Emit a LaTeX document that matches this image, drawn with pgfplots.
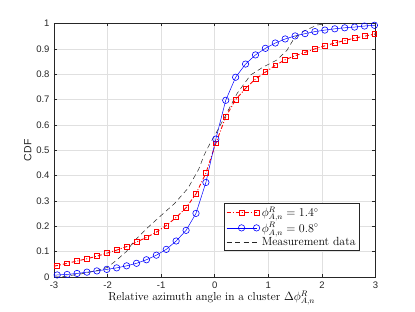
\documentclass[border=0pt]{standalone}
\usepackage{pgfplots}
\pgfplotsset{compat=1.18}
\usepackage{fontspec}
\newfontfamily\armfont{Liberation Sans}
\definecolor{axgray}{rgb}{0.15,0.15,0.15}
\definecolor{gridgray}{rgb}{0.88,0.88,0.88}
\begin{document}
\begin{tikzpicture}[x=1pt,y=1pt]
\begin{axis}[
  scale only axis, width=321.5pt, height=253.5pt,
  at={(0,0)}, anchor=south west,
  xmin=-3, xmax=3, ymin=0, ymax=1,
  xtick={-3,-2,-1,0,1,2,3},
  ytick={0,0.1,0.2,0.3,0.4,0.5,0.6,0.7,0.8,0.9,1},
  yticklabels={0,0.1,0.2,0.3,0.4,0.5,0.6,0.7,0.8,0.9,1},
  xticklabels={-3,-2,-1,0,1,2,3},
  tick align=inside, major tick length=3pt,
  tick style={axgray, line width=0.5pt},
  axis line style={axgray, line width=0.6pt},
  grid=major, grid style={gridgray, line width=0.5pt},
  tick label style={font=\armfont\fontsize{9.5}{11}\selectfont, text=axgray},
  xticklabel style={yshift=-1pt},
  yticklabel style={xshift=-1pt},
  xlabel={Relative azimuth angle in a cluster $\Delta\phi_{A,n}^{R}$},
  ylabel={CDF},
  xlabel style={font=\fontsize{11.5}{13}\selectfont, yshift=4pt, xshift=-3pt},
  ylabel style={font=\armfont\fontsize{10.5}{12}\selectfont, text=axgray, yshift=-2pt},
  legend style={at={(rel axis cs:0.9496,0.1026)}, anchor=south east,
    draw=axgray, line width=0.5pt, font=\fontsize{11.8}{13}\selectfont,
    inner xsep=1.5pt, inner ysep=1.5pt, row sep=0pt, cells={anchor=west}},
  legend cell align=left,
  legend image code/.code={\draw[mark repeat=2,mark phase=2]
     plot coordinates {(0pt,0pt)(15pt,0pt)(30pt,0pt)};},
]
\addplot[red, line width=0.9pt, dash pattern=on 4pt off 2pt on 1pt off 2pt,
  mark=square, mark size=2.4pt, mark options={solid, line width=0.7pt},
  mark indices={2,...,34}] coordinates {
(-3,0.043)
(-2.94,0.045)(-2.755,0.054)(-2.57,0.063)(-2.385,0.072)(-2.2,0.082)(-2.015,0.094)
(-1.83,0.106)(-1.645,0.120)(-1.46,0.138)(-1.275,0.156)(-1.09,0.177)(-0.905,0.203)
(-0.72,0.235)(-0.535,0.273)(-0.35,0.328)(-0.165,0.410)(0.02,0.527)(0.205,0.632)
(0.39,0.700)(0.575,0.744)(0.76,0.781)(0.945,0.808)(1.13,0.835)(1.315,0.857)
(1.5,0.873)(1.685,0.886)(1.87,0.900)(2.055,0.912)(2.24,0.923)(2.425,0.933)
(2.61,0.942)(2.795,0.950)(2.98,0.958)
(3,0.959)};
\addlegendentry{$\phi_{A,n}^{R}=1.4^{\circ}$}
\addplot[blue, line width=0.5pt,
  mark=o, mark size=3.2pt, mark options={solid, line width=0.6pt},
  mark indices={2,...,34}] coordinates {
(-3,0.007)
(-2.94,0.008)(-2.755,0.010)(-2.57,0.014)(-2.385,0.019)(-2.2,0.024)(-2.015,0.030)
(-1.83,0.036)(-1.645,0.044)(-1.46,0.054)(-1.275,0.068)(-1.09,0.086)(-0.905,0.109)
(-0.72,0.142)(-0.535,0.184)(-0.35,0.251)(-0.165,0.373)(0.02,0.544)(0.205,0.697)
(0.39,0.788)(0.575,0.840)(0.76,0.876)(0.945,0.902)(1.13,0.923)(1.315,0.939)
(1.5,0.951)(1.685,0.960)(1.87,0.968)(2.055,0.974)(2.24,0.979)(2.425,0.983)
(2.61,0.986)(2.795,0.990)(2.98,0.993)
(3,0.994)};
\addlegendentry{$\phi_{A,n}^{R}=0.8^{\circ}$}
\addplot[axgray, line width=0.5pt, dash pattern=on 5pt off 3.5pt] coordinates {
(-3,0.0)(-2.85,0.001)(-2.5,0.012)(-2.2,0.025)(-2.0,0.038)(-1.83,0.067)(-1.65,0.100)
(-1.5,0.143)(-1.25,0.195)(-1.0,0.243)(-0.75,0.290)(-0.5,0.350)(-0.3,0.425)
(-0.2,0.48)(-0.1,0.522)(0.0,0.558)(0.2,0.637)(0.42,0.725)(0.67,0.797)(0.91,0.829)
(1.16,0.856)(1.35,0.895)(1.48,0.941)(1.64,0.967)(1.91,0.994)(2.1,1.0)(3,1.0)};
\addlegendentry{Measurement data}
\coordinate (ll) at (rel axis cs:0,0);
\coordinate (ur) at (rel axis cs:1,1);
\end{axis}
\path (ll) ++(-54pt,-35pt) coordinate (bl);
\path (ur) ++(39.5pt,23.5pt) coordinate (tr);
\path (bl) rectangle (tr);
\end{tikzpicture}
\end{document}
